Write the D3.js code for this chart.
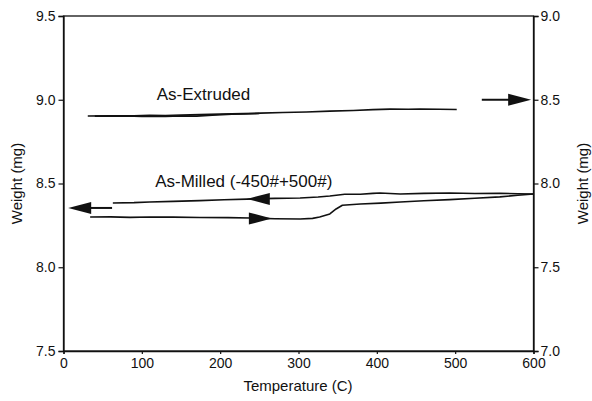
<!DOCTYPE html>
<html>
<head>
<meta charset="utf-8">
<script src="https://cdn.jsdelivr.net/npm/d3@7"></script>
<style>
  body { margin: 0; background: #fff; }
  svg { display: block; }
  text { font-family: "Liberation Sans", Arial, Helvetica, sans-serif; fill: #111; }
</style>
</head>
<body>
<svg id="chart" width="592" height="401"></svg>
<script>
// x ticks, left/right weight ticks
var tempTicks = [0, 100, 200, 300, 400, 500, 600];
var leftTicks = [7.5, 8.0, 8.5, 9.0, 9.5];
var rightTicks = [7.0, 7.5, 8.0, 8.5, 9.0];

// As-Extruded, read on the right axis [T, mg]
var extrudedHeat = [[31, 8.403], [60, 8.404], [90, 8.404], [110, 8.407], [130, 8.406], [150, 8.409], [174, 8.411], [200, 8.414], [230, 8.417], [251, 8.420], [280, 8.424], [310, 8.427], [340, 8.432], [370, 8.436], [395, 8.441], [417, 8.444], [440, 8.443], [455, 8.445], [480, 8.443], [502, 8.442]];
var extrudedCool = [[40, 8.402], [80, 8.403], [100, 8.400], [115, 8.402], [130, 8.400], [150, 8.404], [170, 8.402], [190, 8.408], [215, 8.413], [250, 8.418]];

// As-Milled, read on the left axis [T, mg]
var milledCool = [[63, 8.384], [90, 8.386], [110, 8.390], [140, 8.393], [174, 8.398], [205, 8.403], [234, 8.407], [270, 8.411], [302, 8.413], [325, 8.419], [340, 8.425], [359, 8.436], [379, 8.436], [395, 8.441], [404, 8.443], [430, 8.437], [460, 8.441], [493, 8.443], [525, 8.440], [557, 8.441], [580, 8.439], [600, 8.437]];
var milledHeat = [[34, 8.300], [60, 8.301], [85, 8.298], [110, 8.300], [140, 8.299], [174, 8.297], [210, 8.296], [238, 8.294], [270, 8.290], [302, 8.288], [318, 8.292], [327, 8.300], [340, 8.318], [348, 8.348], [356, 8.370], [379, 8.378], [405, 8.383], [430, 8.390], [460, 8.397], [493, 8.404], [525, 8.412], [557, 8.420], [580, 8.430], [600, 8.437]];

// arrows: axis, tip [T, mg], direction, shaft start T
var arrows = [
  { axis: "right", tip: [597, 8.5], dir: 1, from: 534 },
  { axis: "left", tip: [6, 8.354], dir: -1, from: 62 },
  { axis: "left", tip: [234, 8.408], dir: -1, from: 234 },
  { axis: "left", tip: [266, 8.291], dir: 1, from: 266 }
];

var labels = [
  { axis: "right", t: 119, w: 8.5, s: "As-Extruded" },
  { axis: "left", t: 117, w: 8.48, s: "As-Milled (-450#+500#)" }
];

var svg = d3.select("#chart");
var m = { top: 16, right: 58.5, bottom: 50, left: 63.5 };
var W = 592 - m.left - m.right, H = 401 - m.top - m.bottom;
var g = svg.append("g").attr("transform", "translate(" + m.left + "," + m.top + ")");

var x = d3.scaleLinear().domain([0, 600]).range([0, W]);
var yL = d3.scaleLinear().domain([7.5, 9.5]).range([H, 0]);
var yR = d3.scaleLinear().domain([7.0, 9.0]).range([H, 0]);

// frame
g.append("rect").attr("width", W).attr("height", H)
  .attr("fill", "none").attr("stroke", "#111").attr("stroke-width", 1.3);

var bottom = g.append("g").attr("transform", "translate(0," + H + ")")
  .call(d3.axisBottom(x).tickValues(tempTicks).tickSize(3).tickPadding(4).tickFormat(d3.format("d")));
var left = g.append("g")
  .call(d3.axisLeft(yL).tickValues(leftTicks).tickSize(5).tickPadding(3).tickFormat(d3.format(".1f")));
var right = g.append("g").attr("transform", "translate(" + W + ",0)")
  .call(d3.axisRight(yR).tickValues(rightTicks).tickSize(5).tickPadding(2).tickFormat(d3.format(".1f")));

[bottom, left, right].forEach(function (a) {
  a.select(".domain").attr("stroke", "#111").attr("stroke-width", 1.3);
  a.selectAll(".tick line").attr("stroke", "#111").attr("stroke-width", 1.2);
  a.selectAll(".tick text").style("font-size", "14px").attr("fill", "#111");
});

// axis titles
svg.append("text").attr("x", 298).attr("y", 391).attr("text-anchor", "middle")
  .style("font-size", "15px").text("Temperature (C)");
svg.append("text").attr("transform", "translate(22," + (m.top + H / 2) + ") rotate(-90)")
  .attr("text-anchor", "middle").style("font-size", "15px").text("Weight (mg)");
svg.append("text").attr("transform", "translate(588," + (m.top + H / 2) + ") rotate(-90)")
  .attr("text-anchor", "middle").style("font-size", "15px").text("Weight (mg)");

function lineOn(ys) {
  return d3.line().x(function (d) { return x(d[0]); }).y(function (d) { return ys(d[1]); });
}

var curves = [
  { d: extrudedHeat, ys: yR }, { d: extrudedCool, ys: yR },
  { d: milledCool, ys: yL }, { d: milledHeat, ys: yL }
];
curves.forEach(function (c) {
  g.append("path").attr("d", lineOn(c.ys)(c.d))
    .attr("fill", "none").attr("stroke", "#111").attr("stroke-width", 1.6)
    .attr("stroke-linejoin", "round");
});

// arrows
arrows.forEach(function (a) {
  var ys = a.axis === "right" ? yR : yL;
  var tx = x(a.tip[0]), ty = ys(a.tip[1]), fx = x(a.from);
  var len = 23, hw = 6;
  var bx = tx - a.dir * len;
  if (Math.abs(tx - fx) > len) {
    g.append("line").attr("x1", fx).attr("x2", bx + a.dir * 2).attr("y1", ty).attr("y2", ty)
      .attr("stroke", "#111").attr("stroke-width", 2);
  }
  g.append("path")
    .attr("d", "M" + tx + "," + ty + "L" + bx + "," + (ty - hw) + "L" + bx + "," + (ty + hw) + "Z")
    .attr("fill", "#111");
});

labels.forEach(function (l) {
  var ys = l.axis === "right" ? yR : yL;
  g.append("text").attr("x", x(l.t)).attr("y", ys(l.w))
    .style("font-size", "17px").text(l.s);
});
</script>
</body>
</html>
